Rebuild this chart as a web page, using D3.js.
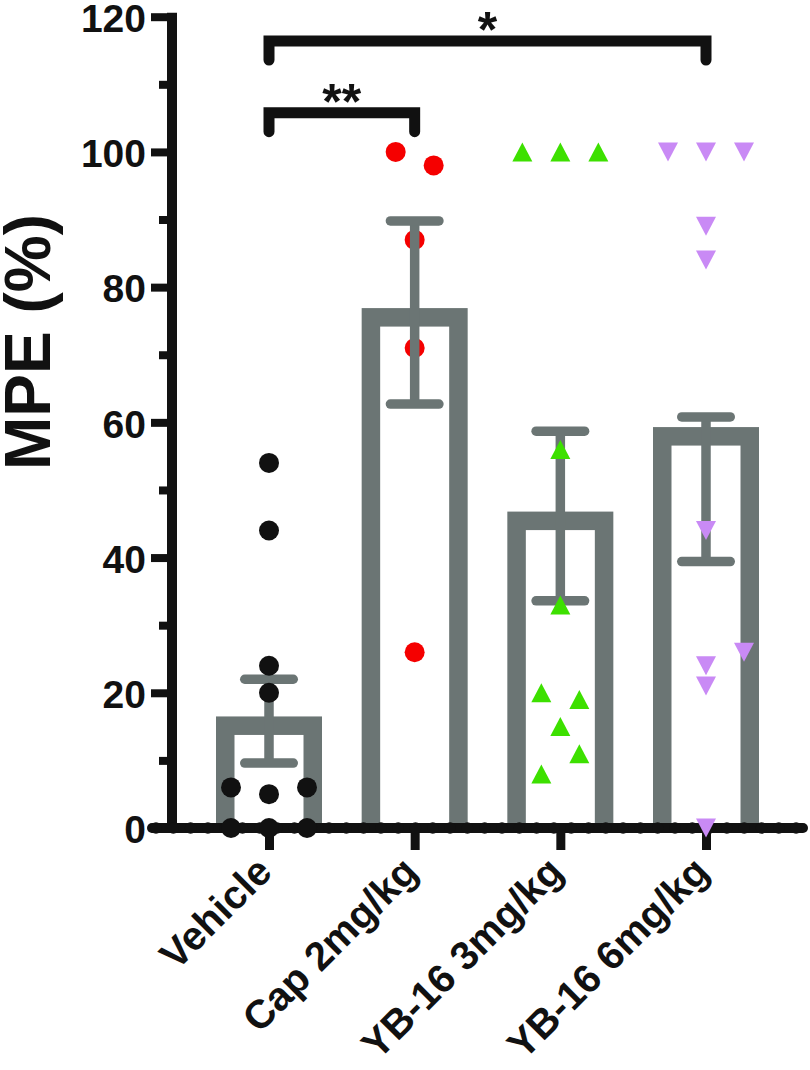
<!DOCTYPE html>
<html>
<head>
<meta charset="utf-8">
<script src="https://cdn.jsdelivr.net/npm/d3@7"></script>
<style>
  html, body { margin: 0; padding: 0; background: #fff; }
  svg { display: block; }
  text { font-family: "Liberation Sans", Arial, sans-serif; font-weight: bold; fill: #111; }
</style>
</head>
<body>
<svg id="chart" width="810" height="1070"></svg>
<script>
// ---------- data ----------
const categories = ["Vehicle", "Cap 2mg/kg", "YB-16 3mg/kg", "YB-16 6mg/kg"];
const barMeans  = [16.5, 76.9, 46.8, 59.3];
const errLow    = [9.6, 62.7, 33.6, 39.4];
const errHigh   = [22.0, 89.8, 58.7, 60.8];

const vehicleValues = [54, 44, 24, 20, 6, 5, 6, 0, 0, 0];
const vehicleSlots  = [0, 0, 0, 0, -1, 0, 1, -1, 0, 1];
const capValues     = [100, 98, 87, 71, 26];
const capSlots      = [-0.5, 0.5, 0, 0, 0];
const yb3Values     = [100, 100, 100, 56, 33, 20, 19, 15, 11, 8];
const yb3Slots      = [-1, 0, 1, 0, 0, -0.5, 0.5, 0, 0.5, -0.5];
const yb6Values     = [100, 100, 100, 89, 84, 44, 26, 24, 21, 0];
const yb6Slots      = [-1, 0, 1, 0, 0, 0, 1, 0, 0, 0];

const yTicks      = [0, 20, 40, 60, 80, 100, 120];
const yMinorTicks = [10, 30, 50, 70, 90, 110];

const sigFrom  = [0, 0];
const sigTo    = [1, 3];
const sigLevel = [105.8, 116.4];
const sigLabel = ["**", "*"];

const yTitle = "MPE (%)";

// ---------- styles ----------
const barColor = "#6b7574";
const ink = "#111";
const pointColors = ["#111111", "#f50000", "#3de000", "#c98af5"];
const shapes = ["circle", "circle", "up", "down"];

const groups = [
  {values: vehicleValues, slots: vehicleSlots},
  {values: capValues, slots: capSlots},
  {values: yb3Values, slots: yb3Slots},
  {values: yb6Values, slots: yb6Slots}
];

const svg = d3.select("#chart");
const y = d3.scaleLinear().domain([0, 120]).range([828, 16.7]);
const x = d3.scalePoint().domain(categories).range([269, 706]);

const barW = 106, barBorder = 18.5, slotGap = 38;
const capW = 58, errStroke = 9.5;

// layers
const gBars = svg.append("g");
const gErrUnder = svg.append("g");
const gAxes = svg.append("g");
const gPts = svg.append("g");
const gErrOver = svg.append("g");
const gSig = svg.append("g");

// bars: gray outer frame, white inner, open at the baseline
categories.forEach((c, i) => {
  const cx = x(c);
  const top = y(barMeans[i]);
  const bottom = y(0);
  gBars.append("rect")
    .attr("x", cx - barW / 2).attr("y", top)
    .attr("width", barW).attr("height", bottom - top)
    .attr("fill", barColor);
  gBars.append("rect")
    .attr("x", cx - barW / 2 + barBorder).attr("y", top + barBorder)
    .attr("width", barW - 2 * barBorder).attr("height", Math.max(0, bottom - top - barBorder))
    .attr("fill", "#fff");
});

// error bars
categories.forEach((c, i) => {
  const cx = x(c);
  const g = (i === 1 ? gErrOver : gErrUnder).append("g")
    .attr("stroke", barColor).attr("stroke-width", errStroke).attr("fill", "none");
  g.append("line").attr("x1", cx).attr("x2", cx)
    .attr("y1", y(errHigh[i])).attr("y2", y(errLow[i]));
  [errHigh[i], errLow[i]].forEach(v => {
    g.append("line")
      .attr("x1", cx - capW / 2 + errStroke / 2).attr("x2", cx + capW / 2 - errStroke / 2)
      .attr("y1", y(v)).attr("y2", y(v))
      .attr("stroke-linecap", "round");
  });
});

// axes
const axisX = 172;
const yAxis = d3.axisLeft(y).tickValues(yTicks).tickSize(21).tickSizeOuter(0);
const gy = gAxes.append("g").attr("transform", `translate(${axisX},0)`).call(yAxis);
gy.select(".domain").remove();
gy.selectAll(".tick line").attr("stroke", ink).attr("stroke-width", 8);
gy.selectAll(".tick text")
  .attr("font-size", 39).attr("font-family", "Liberation Sans, Arial, sans-serif")
  .attr("font-weight", "bold").attr("fill", ink).attr("dy", "0.38em").attr("x", -26);
const yMinor = d3.axisLeft(y).tickValues(yMinorTicks).tickSize(13).tickFormat("");
const gym = gAxes.append("g").attr("transform", `translate(${axisX},0)`).call(yMinor);
gym.select(".domain").remove();
gym.selectAll(".tick line").attr("stroke", ink).attr("stroke-width", 8);
gAxes.append("line")
  .attr("x1", axisX).attr("x2", axisX)
  .attr("y1", y(120) - 4).attr("y2", y(0) + 5)
  .attr("stroke", ink).attr("stroke-width", 10);

// x axis
const xAxis = d3.axisBottom(x).tickSize(22).tickSizeOuter(0).tickFormat("");
const gx = gAxes.append("g").attr("transform", `translate(0,${y(0)})`).call(xAxis);
gx.select(".domain").remove();
gx.selectAll(".tick line").attr("stroke", ink).attr("stroke-width", 9);
gAxes.append("line")
  .attr("x1", 152).attr("x2", 803)
  .attr("y1", y(0)).attr("y2", y(0))
  .attr("stroke", ink).attr("stroke-width", 10).attr("stroke-linecap", "round");
gAxes.append("line")
  .attr("x1", 156).attr("x2", 803)
  .attr("y1", y(0)).attr("y2", y(0))
  .attr("stroke", ink).attr("stroke-width", 11.5).attr("stroke-linecap", "round")
  .attr("stroke-dasharray", "0 17.3");

// x labels
categories.forEach((c) => {
  gAxes.append("text")
    .attr("transform", `translate(${x(c) + 5},${y(0) + 46}) rotate(-45)`)
    .attr("text-anchor", "end")
    .attr("font-size", 40)
    .text(c);
});

// y title
gAxes.append("text")
  .attr("transform", `translate(50,342) rotate(-90)`)
  .attr("text-anchor", "middle")
  .attr("font-size", 64)
  .text(yTitle);

// points
function triPath(dir) {
  const w = 20, h = 19;
  const p = d3.path();
  if (dir === "up") {
    p.moveTo(0, -h / 2); p.lineTo(w / 2, h / 2); p.lineTo(-w / 2, h / 2);
  } else {
    p.moveTo(-w / 2, -h / 2); p.lineTo(w / 2, -h / 2); p.lineTo(0, h / 2);
  }
  p.closePath();
  return p.toString();
}
groups.forEach((grp, i) => {
  const cx = x(categories[i]);
  grp.values.forEach((v, k) => {
    const px = cx + grp.slots[k] * slotGap;
    const py = y(v);
    if (shapes[i] === "circle") {
      gPts.append("circle").attr("cx", px).attr("cy", py).attr("r", 10)
        .attr("fill", pointColors[i]);
    } else {
      gPts.append("path").attr("d", triPath(shapes[i]))
        .attr("transform", `translate(${px},${py})`)
        .attr("fill", pointColors[i]);
    }
  });
});

// significance brackets
sigLevel.forEach((lv, j) => {
  const x1 = x(categories[sigFrom[j]]);
  const x2 = x(categories[sigTo[j]]);
  const yy = y(lv);
  const drop = 19;
  gSig.append("path")
    .attr("d", `M${x1},${yy + drop}V${yy}H${x2}V${yy + drop}`)
    .attr("fill", "none").attr("stroke", ink).attr("stroke-width", 11)
    .attr("stroke-linecap", "round").attr("stroke-linejoin", "miter");
  gSig.append("text")
    .attr("x", (x1 + x2) / 2).attr("y", yy + 6)
    .attr("text-anchor", "middle").attr("font-size", 50)
    .text(sigLabel[j]);
});
</script>
</body>
</html>
